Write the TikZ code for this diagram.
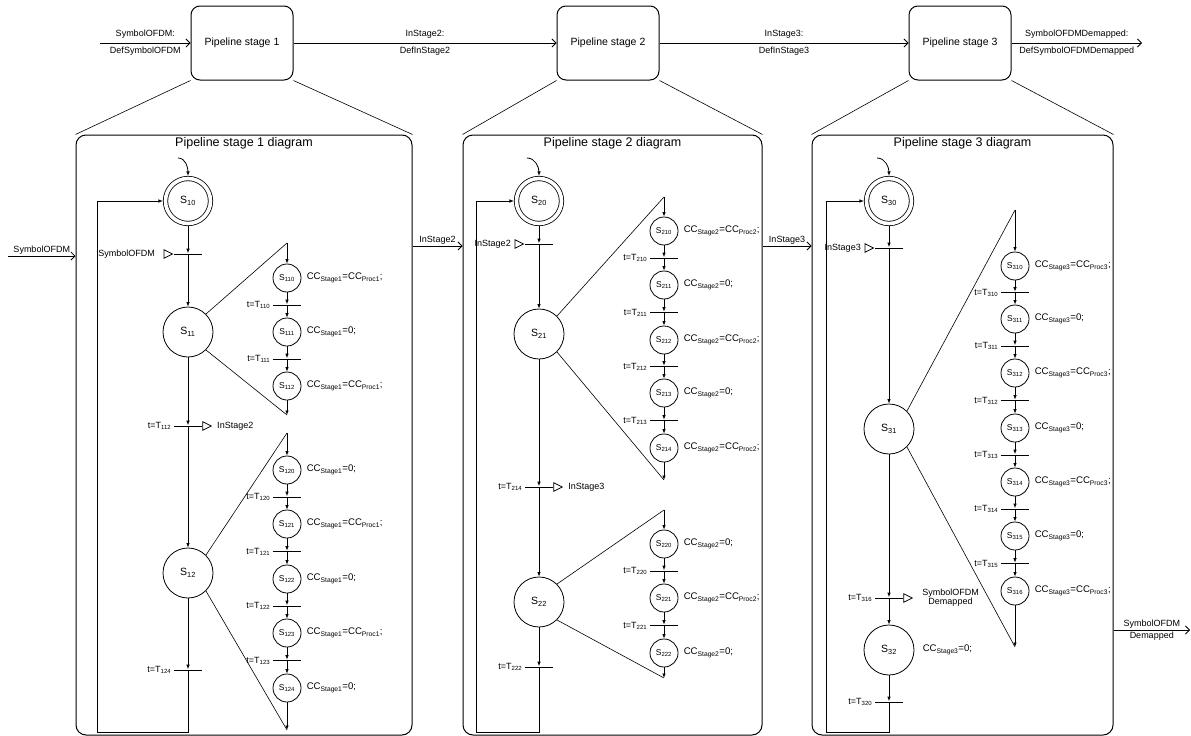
\documentclass[tikz,border=0pt]{standalone}
\usepackage{fontspec}
\setmainfont{Liberation Sans}
\usetikzlibrary{arrows.meta, positioning, calc, shapes.geometric}
\newcommand{\idx}[1]{\textsubscript{#1}}
\newcommand{\setsz}[1]{\fontsize{#1}{#1}\selectfont}
\tikzset{
    state/.style={circle, draw, minimum size=50pt, inner sep=0pt, font=\setsz{10.5}},
    initstate/.style={state, minimum size=45pt, double, double distance=3.6pt, outer sep=2.6pt},
    sstate/.style={circle, draw, minimum size=28pt, inner sep=0pt, font=\setsz{8.5}},
    bar/.style={rectangle, fill, minimum width=28pt, minimum height=0.9pt, inner sep=0pt},
    sig/.style={draw, fill=white, isosceles triangle, isosceles triangle stretches,
        minimum width=8.5pt, minimum height=8.5pt, inner sep=0pt},
    sigl/.style={font=\setsz{9}, inner sep=1.5pt},
    toplab/.style={font=\setsz{9}, inner sep=4pt},
    tlab/.style={font=\setsz{9}, inner sep=1pt},
    act/.style={font=\setsz{9.6}, inner sep=1pt},
    title/.style={font=\setsz{12.5}, inner sep=2pt},
    frame/.style={draw, rounded corners=10pt, line width=1pt},
    stagebox/.style={draw, rounded corners=9pt, line width=1pt, minimum width=102pt,
        minimum height=74pt, font=\setsz{10.5}},
    arr/.style={-{Latex[length=4.5pt, width=3.5pt]}},
    oarr/.style={-{Straight Barb[length=4pt, width=8pt]}},
    zoomline/.style={line width=0.6pt}
}
\begin{document}
\begin{tikzpicture}[x=1pt, y=-1pt, line width=0.8pt]
    \useasboundingbox (0,0) rectangle (1191,736);

    % top level pipeline
    \node[stagebox] (p1) at (242,43) {Pipeline stage 1};
    \node[stagebox] (p2) at (608,43) {Pipeline stage 2};
    \node[stagebox] (p3) at (960,43) {Pipeline stage 3};
    \coordinate (in0) at (100,43);
    \coordinate (out0) at (1142,43);
    \draw[oarr] (in0) -- node[toplab, above] (q1) {SymbolOFDM:} node[toplab, below] (q2) {DefSymbolOFDM} (p1);
    \draw[oarr] (p1) -- node[toplab, above] (q3) {InStage2:} node[toplab, below] (q4) {DefInStage2} (p2);
    \draw[oarr] (p2) -- node[toplab, above] (q5) {InStage3:} node[toplab, below] (q6) {DefInStage3} (p3);
    \draw[oarr] (p3) -- node[toplab, above] (q7) {SymbolOFDMDemapped:} node[toplab, below] (q8) {DefSymbolOFDMDemapped} (out0);

    % frames
    \node[frame, minimum width=336pt, minimum height=600pt] (f1) at (244,435) {};
    \node[frame, minimum width=299pt, minimum height=600pt] (f2) at (612.5,435) {};
    \node[frame, minimum width=301pt, minimum height=600pt] (f3) at (962.5,435) {};
    \node[title, below=1pt of f1.north] (h1) {Pipeline stage 1 diagram};
    \node[title, below=1pt of f2.north] (h2) {Pipeline stage 2 diagram};
    \node[title, below=1pt of f3.north] (h3) {Pipeline stage 3 diagram};
    \draw[zoomline] (p1.south west) -- (f1.north west) (p1.south east) -- (f1.north east);
    \draw[zoomline] (p2.south west) -- (f2.north west) (p2.south east) -- (f2.north east);
    \draw[zoomline] (p3.south west) -- (f3.north west) (p3.south east) -- (f3.north east);

    % signals between frames
    \coordinate (y1) at (0,256);
    \coordinate (e1) at (8,256);
    \coordinate (y2) at (0,246);
    \coordinate (y4) at (0,630);
    \coordinate (e4) at (1190,630);
    \draw[oarr] (e1) -- node[sigl, above] (g1) {SymbolOFDM} (f1.west |- y1);
    \draw[oarr] (f1.east |- y2) -- node[sigl, above] (g2) {InStage2} (f2.west |- y2);
    \draw[oarr] (f2.east |- y2) -- node[sigl, above] (g3) {InStage3} (f3.west |- y2);
    \draw[oarr] (f3.east |- y4) -- node[sigl, above] (g4) {SymbolOFDM} node[sigl, below] (g5) {Demapped} (e4);

    % stage 1 diagram
    \node[initstate] (s10) at (188,201) {S\idx{10}};
    \coordinate (i1) at (178,158);
    \draw[arr] (i1) to[out=0, in=90] (s10);
    \node[bar] (b10) at (188,254) {};
    \node[sig, anchor=apex] (t10) at (b10.west) {};
    \node[sigl, left=7pt of t10] (l10) {SymbolOFDM};
    \node[state] (s11) at (188,332) {S\idx{11}};
    \node[bar] (b112) at (188,426) {};
    \node[sig, anchor=lower side] (t112) at (b112.east) {};
    \node[sigl, right=3pt of t112] (l112) {InStage2};
    \node[tlab, left=1pt of b112] (tl112) {t=T\idx{112}};
    \node[state] (s12) at (188,573) {S\idx{12}};
    \node[bar] (b124) at (188,670) {};
    \node[tlab, left=1pt of b124] (tl124) {t=T\idx{124}};
    \coordinate (r1) at (97,732);
    \draw[arr] (s10) -- (b10);
    \draw[arr] (b10) -- (s11);
    \draw[arr] (s11) -- (b112);
    \draw[arr] (b112) -- (s12);
    \draw[arr] (s12) -- (b124);
    \draw[arr] (b124) |- (r1) |- (s10.west);

    % zoom of S11
    \coordinate (top11) at (287,243);
    \coordinate (bot11) at (287,415);
    \foreach \n/\y/\cc in {110/278/{CC\idx{Proc1}}, 111/332/0, 112/386/{CC\idx{Proc1}}} {
        \node[sstate] (s\n) at (287,\y) {S\idx{\n}};
        \node[act, right=4pt of s\n] (a\n) {CC\idx{Stage1}=\cc;};
    }
    \foreach \a/\b in {110/111, 111/112} {
        \node[bar] (b\a) at ($(s\a)!0.5!(s\b)$) {};
        \node[tlab, left=1pt of b\a] (tl\a) {t=T\idx{\a}};
        \draw[arr] (s\a) -- (b\a);
        \draw[arr] (b\a) -- (s\b);
    }
    \draw[zoomline] (s11.north east) -- (top11) (s11.south east) -- (bot11);
    \draw[arr] (top11) -- (s110);
    \draw[arr] (s112) -- (bot11);

    % zoom of S12
    \coordinate (top12) at (287,433);
    \coordinate (bot12) at (287,730);
    \foreach \n/\y/\cc in {120/470/0, 121/524/{CC\idx{Proc1}}, 122/579/0, 123/633/{CC\idx{Proc1}}, 124/688/0} {
        \node[sstate] (s\n) at (287,\y) {S\idx{\n}};
        \node[act, right=4pt of s\n] (a\n) {CC\idx{Stage1}=\cc;};
    }
    \foreach \a/\b in {120/121, 121/122, 122/123, 123/124} {
        \node[bar] (b\a) at ($(s\a)!0.5!(s\b)$) {};
        \node[tlab, left=1pt of b\a] (tl\a) {t=T\idx{\a}};
        \draw[arr] (s\a) -- (b\a);
        \draw[arr] (b\a) -- (s\b);
    }
    \draw[zoomline] (s12.north east) -- (top12) (s12.south east) -- (bot12);
    \draw[arr] (top12) -- (s120);
    \draw[arr] (s124) -- (bot12);

    % stage 2 diagram
    \node[initstate] (s20) at (539,201) {S\idx{20}};
    \coordinate (i2) at (527,158);
    \draw[arr] (i2) to[out=0, in=90] (s20);
    \node[bar] (b20) at (539,244) {};
    \node[sig, anchor=apex] (t20) at (b20.west) {};
    \node[sigl, left=2pt of t20] (l20) {InStage2};
    \node[state] (s21) at (539,334) {S\idx{21}};
    \node[bar] (b214) at (539,487) {};
    \node[sig, anchor=lower side] (t214) at (b214.east) {};
    \node[sigl, right=3pt of t214] (l214) {InStage3};
    \node[tlab, left=1pt of b214] (tl214) {t=T\idx{214}};
    \node[state] (s22) at (539,602) {S\idx{22}};
    \node[bar] (b222) at (539,667) {};
    \node[tlab, left=1pt of b222] (tl222) {t=T\idx{222}};
    \coordinate (r2) at (476,732);
    \draw[arr] (s20) -- (b20);
    \draw[arr] (b20) -- (s21);
    \draw[arr] (s21) -- (b214);
    \draw[arr] (b214) -- (s22);
    \draw[arr] (s22) -- (b222);
    \draw[arr] (b222) |- (r2) |- (s20.west);

    % zoom of S21
    \coordinate (top21) at (664,197);
    \coordinate (bot21) at (664,480);
    \foreach \n/\y/\cc in {210/231/{CC\idx{Proc2}}, 211/285/0, 212/340/{CC\idx{Proc2}}, 213/393/0, 214/448/{CC\idx{Proc2}}} {
        \node[sstate] (s\n) at (664,\y) {S\idx{\n}};
        \node[act, right=4pt of s\n] (a\n) {CC\idx{Stage2}=\cc;};
    }
    \foreach \a/\b in {210/211, 211/212, 212/213, 213/214} {
        \node[bar] (b\a) at ($(s\a)!0.5!(s\b)$) {};
        \node[tlab, left=1pt of b\a] (tl\a) {t=T\idx{\a}};
        \draw[arr] (s\a) -- (b\a);
        \draw[arr] (b\a) -- (s\b);
    }
    \draw[zoomline] (s21.north east) -- (top21) (s21.south east) -- (bot21);
    \draw[arr] (top21) -- (s210);
    \draw[arr] (s214) -- (bot21);

    % zoom of S22
    \coordinate (top22) at (664,510);
    \coordinate (bot22) at (664,678);
    \foreach \n/\y/\cc in {220/544/0, 221/598/{CC\idx{Proc2}}, 222/653/0} {
        \node[sstate] (s\n) at (664,\y) {S\idx{\n}};
        \node[act, right=4pt of s\n] (a\n) {CC\idx{Stage2}=\cc;};
    }
    \foreach \a/\b in {220/221, 221/222} {
        \node[bar] (b\a) at ($(s\a)!0.5!(s\b)$) {};
        \node[tlab, left=1pt of b\a] (tl\a) {t=T\idx{\a}};
        \draw[arr] (s\a) -- (b\a);
        \draw[arr] (b\a) -- (s\b);
    }
    \draw[zoomline] (s22.north east) -- (top22) (s22.south east) -- (bot22);
    \draw[arr] (top22) -- (s220);
    \draw[arr] (s222) -- (bot22);

    % stage 3 diagram
    \node[initstate] (s30) at (889,201) {S\idx{30}};
    \coordinate (i3) at (877,158);
    \draw[arr] (i3) to[out=0, in=90] (s30);
    \node[bar] (b30) at (889,248) {};
    \node[sig, anchor=apex] (t30) at (b30.west) {};
    \node[sigl, left=2pt of t30] (l30) {InStage3};
    \node[state] (s31) at (889,429) {S\idx{31}};
    \node[bar] (b316) at (889,598) {};
    \node[sig, anchor=lower side] (t316) at (b316.east) {};
    \node[sigl, align=center, right=7pt of t316] (l316) {SymbolOFDM\\Demapped};
    \node[tlab, left=1pt of b316] (tl316) {t=T\idx{316}};
    \node[state] (s32) at (889,650) {S\idx{32}};
    \node[act, right=7pt of s32] (a32) {CC\idx{Stage3}=0;};
    \node[bar] (b320) at (889,702) {};
    \node[tlab, left=1pt of b320] (tl320) {t=T\idx{320}};
    \coordinate (r3) at (826,732);
    \draw[arr] (s30) -- (b30);
    \draw[arr] (b30) -- (s31);
    \draw[arr] (s31) -- (b316);
    \draw[arr] (b316) -- (s32);
    \draw[arr] (s32) -- (b320);
    \draw[arr] (b320) |- (r3) |- (s30.west);

    % zoom of S31
    \coordinate (top31) at (1015,210);
    \coordinate (bot31) at (1015,647);
    \foreach \n/\y/\cc in {310/266/{CC\idx{Proc3}}, 311/319/0, 312/373/{CC\idx{Proc3}}, 313/428/0,
        314/482/{CC\idx{Proc3}}, 315/536/0, 316/591/{CC\idx{Proc3}}} {
        \node[sstate] (s\n) at (1015,\y) {S\idx{\n}};
        \node[act, right=4pt of s\n] (a\n) {CC\idx{Stage3}=\cc;};
    }
    \foreach \a/\b in {310/311, 311/312, 312/313, 313/314, 314/315, 315/316} {
        \node[bar] (b\a) at ($(s\a)!0.5!(s\b)$) {};
        \node[tlab, left=1pt of b\a] (tl\a) {t=T\idx{\a}};
        \draw[arr] (s\a) -- (b\a);
        \draw[arr] (b\a) -- (s\b);
    }
    \draw[zoomline] (s31.north east) -- (top31) (s31.south east) -- (bot31);
    \draw[arr] (top31) -- (s310);
    \draw[arr] (s316) -- (bot31);
\end{tikzpicture}
\end{document}
